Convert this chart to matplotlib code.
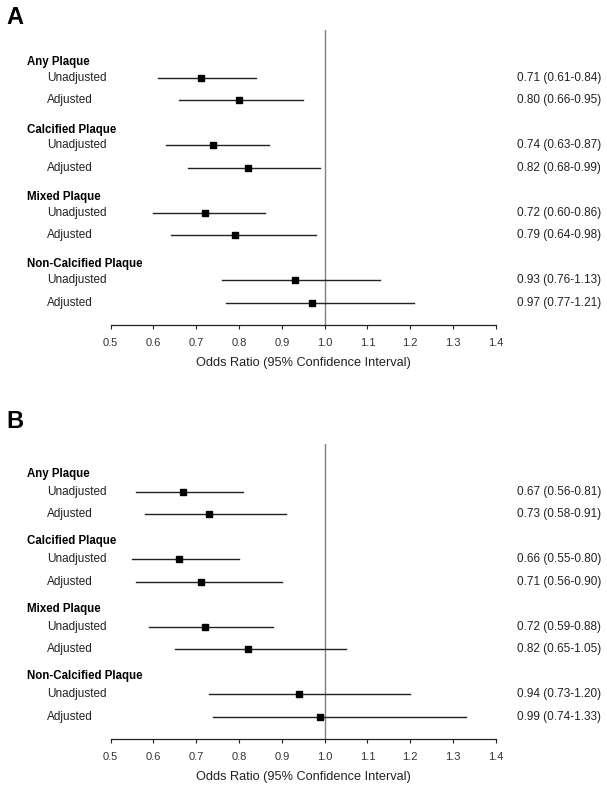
import matplotlib.pyplot as plt
from matplotlib.transforms import blended_transform_factory


GROUPS = [
    "Any Plaque",
    "Calcified Plaque",
    "Mixed Plaque",
    "Non-Calcified Plaque",
]

MODELS = ["Unadjusted", "Adjusted"]

# panel A: odds ratios, lower and upper 95% CI (one per group/model row)
A_OR = [0.71, 0.80, 0.74, 0.82, 0.72, 0.79, 0.93, 0.97]
A_LOW = [0.61, 0.66, 0.63, 0.68, 0.60, 0.64, 0.76, 0.77]
A_HIGH = [0.84, 0.95, 0.87, 0.99, 0.86, 0.98, 1.13, 1.21]

# panel B
B_OR = [0.67, 0.73, 0.66, 0.71, 0.72, 0.82, 0.94, 0.99]
B_LOW = [0.56, 0.58, 0.55, 0.56, 0.59, 0.65, 0.73, 0.74]
B_HIGH = [0.81, 0.91, 0.80, 0.90, 0.88, 1.05, 1.20, 1.33]

X_TICKS = [0.5, 0.6, 0.7, 0.8, 0.9, 1.0, 1.1, 1.2, 1.3, 1.4]

W, H = 607, 790


def draw_panel(fig, ax, letter, letter_y, odds, low, high, header_offset):
    # rows: 0,1 | 3,4 | 6,7 | 9,10
    rows = []
    for g in range(len(GROUPS)):
        for k in range(len(MODELS)):
            rows.append(g * 3 + k)

    ax.axvline(1.0, color="#808080", linewidth=1.0, zorder=1)

    for y, o, lo, hi in zip(rows, odds, low, high):
        ax.plot([lo, hi], [y, y], color="#222222", linewidth=1.0, zorder=2)
        ax.plot(o, y, marker="s", markersize=5, color="black", zorder=3)

    ax.set_xlim(0.5, 1.4)
    ax.set_ylim(11, -2.13)

    for side in ["top", "left", "right"]:
        ax.spines[side].set_visible(False)
    ax.spines["bottom"].set_color("#222222")
    ax.spines["bottom"].set_linewidth(0.9)

    ax.set_yticks([])
    ax.set_xticks(X_TICKS)
    ax.set_xticklabels([f"{t:.1f}" for t in X_TICKS])
    ax.tick_params(
        axis="x",
        direction="out",
        length=3,
        width=0.8,
        color="#222222",
        labelsize=8,
        labelcolor="#333333",
        pad=6,
    )
    ax.set_xlabel(
        "Odds Ratio (95% Confidence Interval)",
        fontsize=9.2,
        color="#222222",
        labelpad=7,
    )

    trans = blended_transform_factory(fig.transFigure, ax.transData)

    for g, name in enumerate(GROUPS):
        ax.text(
            27 / W, g * 3 + header_offset, name,
            transform=trans, fontsize=8.3, fontweight="bold",
            ha="left", va="center", color="black",
        )

    for i, y in enumerate(rows):
        ax.text(
            47 / W, y, MODELS[i % 2],
            transform=trans, fontsize=8.5,
            ha="left", va="center", color="#222222",
        )
        ax.text(
            601 / W, y,
            f"{odds[i]:.2f} ({low[i]:.2f}-{high[i]:.2f})",
            transform=trans, fontsize=8.5,
            ha="right", va="center", color="#222222",
        )

    fig.text(
        6 / W, 1 - letter_y / H, letter,
        fontsize=17, fontweight="bold",
        ha="left", va="center",
    )


def main():
    plt.rcParams["font.family"] = ["Liberation Sans", "DejaVu Sans"]

    fig = plt.figure(figsize=(W / 100, H / 100), dpi=100)

    left = 110.7 / W
    width = 385 / W
    height = 295 / H

    ax_a = fig.add_axes([left, 1 - 325 / H, width, height])
    ax_b = fig.add_axes([left, 1 - 739 / H, width, height])

    draw_panel(fig, ax_a, "A", 17, A_OR, A_LOW, A_HIGH, -0.7)
    draw_panel(fig, ax_b, "B", 422, B_OR, B_LOW, B_HIGH, -0.8)

    fig.savefig("out.png", dpi=100)
    plt.close(fig)


if __name__ == "__main__":
    main()
